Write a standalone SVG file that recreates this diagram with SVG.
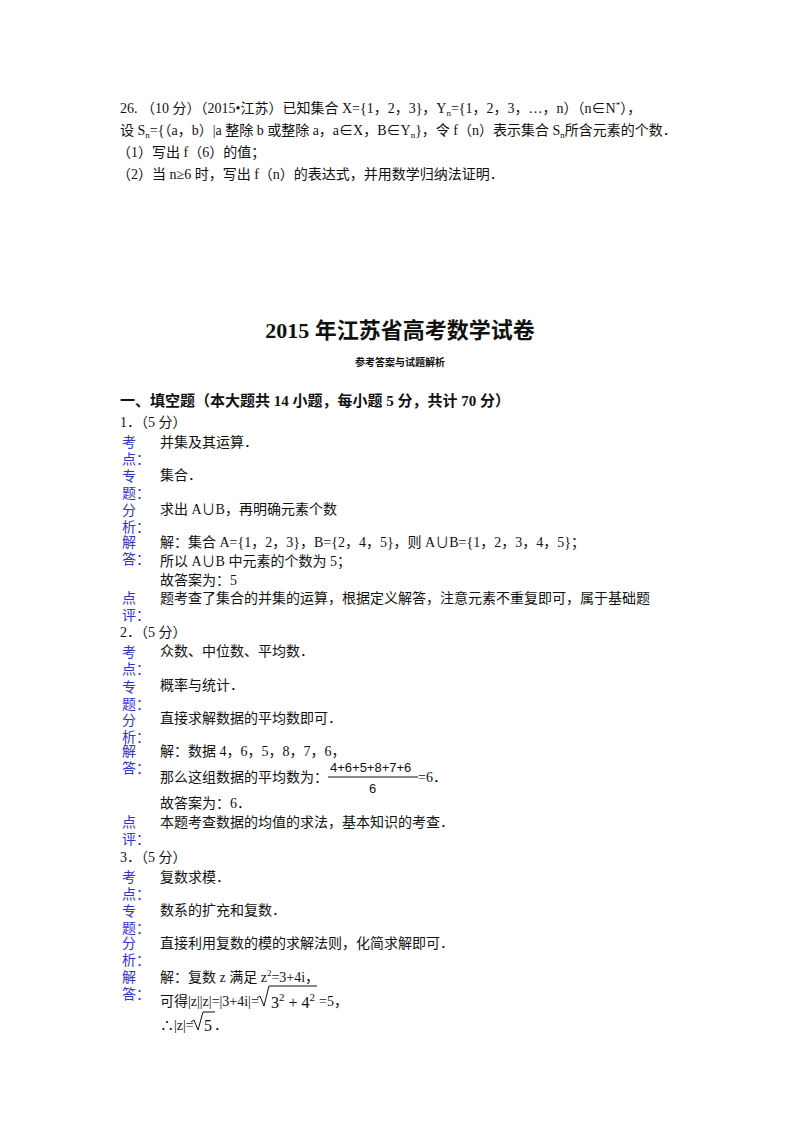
<svg xmlns="http://www.w3.org/2000/svg" width="800" height="1132" viewBox="0 0 800 1132">
<style>
text{font-family:"Liberation Serif","Noto Sans CJK SC",serif;font-size:14px;fill:#111}
.l{fill:#3333cc}
.b{font-weight:bold}
.s{font-size:9px}
</style>
<rect width="800" height="1132" fill="#fff"/>
<text x="120" y="113">26. （10 分）（2015•江苏）已知集合 X={1，2，3}，Y<tspan class="s" dy="3">n</tspan><tspan dy="-3">={1，2，3，…，n）（n∈N</tspan><tspan class="s" dy="-5">*</tspan><tspan dy="5">），</tspan></text>
<text x="120" y="135">设 S<tspan class="s" dy="3">n</tspan><tspan dy="-3">={（a，b）|a 整除 b 或整除 a，a∈X，B∈Y</tspan><tspan class="s" dy="3">n</tspan><tspan dy="-3">}，令 f（n）表示集合 S</tspan><tspan class="s" dy="3">n</tspan><tspan dy="-3">所含元素的个数．</tspan></text>
<text x="117" y="157">（1）写出 f（6）的值；</text>
<text x="117" y="179">（2）当 n≥6 时，写出 f（n）的表达式，并用数学归纳法证明．</text>
<text x="400" y="338" text-anchor="middle" class="b" style="font-size:22px">2015 年江苏省高考数学试卷</text>
<text x="400" y="366" text-anchor="middle" class="b" style="font-size:10px">参考答案与试题解析</text>
<text x="120" y="406" class="b" style="font-size:15px">一、填空题（本大题共 14 小题，每小题 5 分，共计 70 分）</text>
<text x="120" y="427">1．（5 分）</text>
<text class="l" x="122" y="447">考</text><text class="l" x="122" y="464">点：</text>
<text class="l" x="122" y="481">专</text><text class="l" x="122" y="498">题：</text>
<text class="l" x="122" y="515">分</text><text class="l" x="122" y="532">析：</text>
<text class="l" x="122" y="547">解</text><text class="l" x="122" y="564">答：</text>
<text class="l" x="122" y="603">点</text><text class="l" x="122" y="620">评：</text>
<text x="160" y="447">并集及其运算．</text>
<text x="160" y="480">集合．</text>
<text x="160" y="514">求出 A∪B，再明确元素个数</text>
<text x="160" y="547">解：集合 A={1，2，3}，B={2，4，5}，则 A∪B={1，2，3，4，5}；</text>
<text x="160" y="566">所以 A∪B 中元素的个数为 5；</text>
<text x="160" y="585">故答案为：5</text>
<text x="160" y="603">题考查了集合的并集的运算，根据定义解答，注意元素不重复即可，属于基础题</text>
<text x="120" y="637">2．（5 分）</text>
<text class="l" x="122" y="657">考</text><text class="l" x="122" y="674">点：</text>
<text class="l" x="122" y="692">专</text><text class="l" x="122" y="709">题：</text>
<text class="l" x="122" y="725">分</text><text class="l" x="122" y="742">析：</text>
<text class="l" x="122" y="756">解</text><text class="l" x="122" y="773">答：</text>
<text class="l" x="122" y="827">点</text><text class="l" x="122" y="844">评：</text>
<text x="160" y="656">众数、中位数、平均数．</text>
<text x="160" y="690">概率与统计．</text>
<text x="160" y="723">直接求解数据的平均数即可．</text>
<text x="160" y="756">解：数据 4，6，5，8，7，6，</text>
<text x="160" y="782">那么这组数据的平均数为：</text>
<text x="330" y="772" style="font-family:'Liberation Sans',sans-serif;font-size:13px">4+6+5+8+7+6</text>
<line x1="328" y1="777" x2="418" y2="777" stroke="#111" stroke-width="1"/>
<text x="369" y="793" style="font-family:'Liberation Sans',sans-serif;font-size:13px">6</text>
<text x="418" y="782">=6．</text>
<text x="160" y="808">故答案为：6．</text>
<text x="160" y="827">本题考查数据的均值的求法，基本知识的考查．</text>
<text x="120" y="862">3．（5 分）</text>
<text class="l" x="122" y="882">考</text><text class="l" x="122" y="899">点：</text>
<text class="l" x="122" y="916">专</text><text class="l" x="122" y="933">题：</text>
<text class="l" x="122" y="948">分</text><text class="l" x="122" y="965">析：</text>
<text class="l" x="122" y="982">解</text><text class="l" x="122" y="999">答：</text>
<text x="160" y="882">复数求模．</text>
<text x="160" y="915">数系的扩充和复数．</text>
<text x="160" y="948">直接利用复数的模的求解法则，化简求解即可．</text>
<text x="160" y="982">解：复数 z 满足 z<tspan class="s" dy="-6">2</tspan><tspan dy="6">=3+4i，</tspan></text>
<text x="160" y="1006">可得|z||z|=|3+4i|=</text>
<path d="M257,998 l3,-2 l4,10 l5,-20 h48" fill="none" stroke="#111" stroke-width="1"/>
<text x="271" y="1008" style="font-size:16px">3<tspan style="font-size:11px" dy="-7">2</tspan><tspan dy="7"> + 4</tspan><tspan style="font-size:11px" dy="-7">2</tspan></text>
<text x="319" y="1006">=5，</text>
<text x="160" y="1030">∴|z|=</text>
<path d="M191,1022 l3,-2 l4,10 l5,-18 h12" fill="none" stroke="#111" stroke-width="1"/>
<text x="204" y="1031" style="font-size:16px">5</text>
<text x="214" y="1030">．</text>
</svg>
